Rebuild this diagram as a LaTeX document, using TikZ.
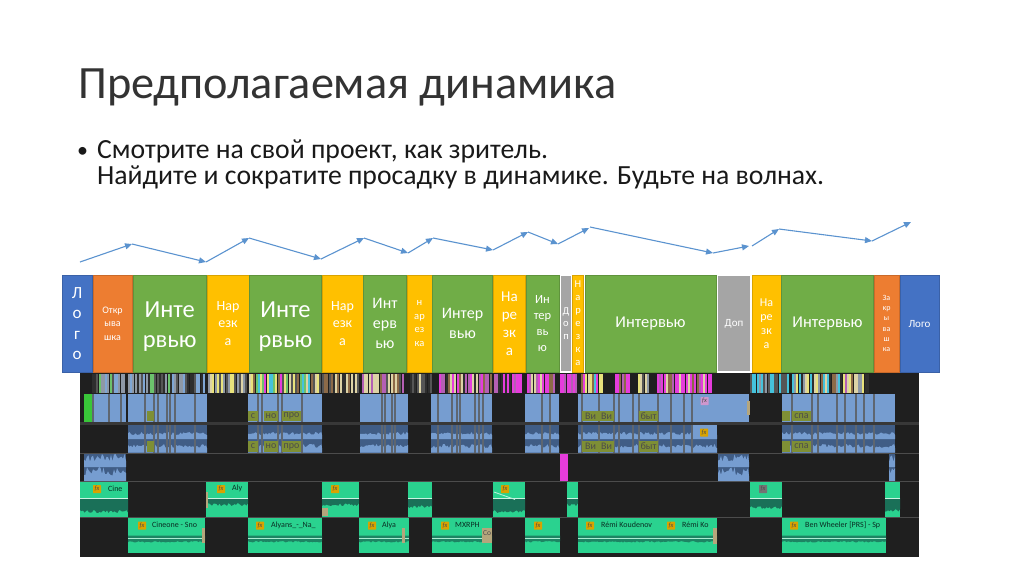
\documentclass[tikz,border=0pt]{standalone}
\usepackage{fontspec}
\setmainfont{Carlito}
\usetikzlibrary{arrows.meta, positioning}

\definecolor{logoblue}{HTML}{4472C4}
\definecolor{openorange}{HTML}{ED7D31}
\definecolor{talkgreen}{HTML}{70AD47}
\definecolor{cutyellow}{HTML}{FFC000}
\definecolor{extragrey}{HTML}{A5A5A5}
\definecolor{risearrow}{HTML}{5B93CF}
\definecolor{panel}{HTML}{1F1F1F}
\definecolor{videoclip}{HTML}{769DD0}
\definecolor{audiodark}{HTML}{405D86}
\definecolor{cutline}{HTML}{5E6670}
\definecolor{musicclip}{HTML}{2AD28F}
\definecolor{musicdark}{HTML}{1A7058}
\definecolor{titleolive}{HTML}{7E8F35}
\definecolor{tanclip}{HTML}{B5A67C}
\definecolor{sgrey}{HTML}{8E98A6}
\definecolor{sblue}{HTML}{7FA6D4}
\definecolor{sgreen}{HTML}{6CC26C}
\definecolor{sdark}{HTML}{2E2E2E}
\definecolor{smid}{HTML}{555555}
\definecolor{sbeige}{HTML}{DDD3A6}
\definecolor{syellow}{HTML}{E8E27C}
\definecolor{smag}{HTML}{E63CDC}
\definecolor{scyan}{HTML}{45C2DC}
\definecolor{sbrown}{HTML}{8C6A48}
\definecolor{spurple}{HTML}{B45FB4}

\pgfmathdeclarerandomlist{palgrey}{{sgrey}{sblue}{sgreen}{sdark}{sgrey}{smid}}
\pgfmathdeclarerandomlist{palbeige}{{sbeige}{syellow}{smid}{sgrey}{syellow}}
\pgfmathdeclarerandomlist{palmix}{{syellow}{sgreen}{smag}{scyan}{sbeige}{sbrown}{smid}}
\pgfmathdeclarerandomlist{palbrown}{{sbrown}{sbeige}{sdark}{sbrown}{smid}}
\pgfmathdeclarerandomlist{palwarm}{{sbeige}{sbrown}{sbeige}{smid}{spurple}}
\pgfmathdeclarerandomlist{paldim}{{smid}{sdark}{sbeige}{smid}}
\pgfmathdeclarerandomlist{palpurple}{{spurple}{smag}{sbrown}{sbeige}{spurple}{sdark}}
\pgfmathdeclarerandomlist{palplum}{{spurple}{smag}{sdark}{sdark}{smag}}
\pgfmathdeclarerandomlist{palhot}{{sbrown}{sbeige}{smag}{smag}{spurple}}
\pgfmathdeclarerandomlist{palpink}{{smag}{spurple}}
\pgfmathdeclarerandomlist{palbright}{{syellow}{sbrown}{smag}{scyan}{sbeige}}
\pgfmathdeclarerandomlist{palcool}{{scyan}{sgrey}{scyan}{smid}}
\pgfmathdeclarerandomlist{palsparse}{{sdark}{sdark}{scyan}{sbrown}{spurple}{sgrey}{syellow}{sbeige}}

\newcommand{\stripes}[3]{
    \pgfmathtruncatemacro{\stripecount}{(#2-#1)/2.2-1}
    \foreach \i in {0,...,\stripecount}{
        \pgfmathrandomitem{\stripecol}{#3}
        \fill[\stripecol] ({#1+\i*2.2},374) rectangle ++(2,19);
    }
}
\newcommand{\wavefill}[6]{
    \pgfmathtruncatemacro{\wavesteps}{(#2-#1)/1.5}
    \fill[#6] (#1,#3) \foreach \i in {0,...,\wavesteps}{-- ({#1+\i*1.5},{#4-rnd*(#5)})} -- (#2,{#4}) -- (#2,#3) -- cycle;
}

\tikzset{
    fs/.style 2 args={font=\fontsize{#1}{#2}\selectfont},
    block/.style={inner sep=0pt, outer sep=0pt, minimum height=97pt, text=white, align=center, draw=#1!85!black, fill=#1, line width=0.7pt},
    extrablock/.style={inner sep=0pt, outer sep=0pt, minimum height=97pt, text=white, align=center, draw=white, fill=extragrey, line width=1.2pt},
    rise/.style={risearrow, line width=1.1pt, -{Triangle[length=7pt, width=6pt]}},
    fxbadge/.style={fill=cutyellow!85!black, text=black!70, rounded corners=0.5pt, inner sep=0pt, minimum width=8pt, minimum height=8pt, font=\fontsize{6.5}{7}\itshape\selectfont},
    cliplabel/.style={anchor=west, inner sep=0pt, text=black!60!musicdark, font=\fontsize{8}{9}\selectfont},
    takelabel/.style={fill=titleolive, inner sep=0pt, text=black!70, font=\fontsize{10}{10}\selectfont}
}

\begin{document}
\begin{tikzpicture}[x=1pt, y=-1pt]
    \useasboundingbox (0,0) rectangle (1024,574);
    \pgfmathsetseed{11}

    \node[anchor=base west, inner sep=0pt, text=black!80, fs={46.3}{48}] (heading) at (78,98.5) {Предполагаемая динамика};
    \node[anchor=base west, inner sep=0pt, text=black!90, fs={22}{28}] (bullet) at (77,157) {•};
    \node[anchor=base west, inner sep=0pt, text=black!90, fs={27.7}{28}] (lineone) at (97,158) {Смотрите на свой проект, как зритель.};
    \node[anchor=base west, inner sep=0pt, text=black!90, fs={27.7}{28}] (linetwo) at (97,184) {Найдите и сократите просадку в динамике. Будьте на волнах.};

    \fill[panel] (80,372.5) rectangle (919,557);

    \node[block=logoblue, minimum width=30pt, anchor=north west, fs={17}{20.5}] (logoa) at (62,275) {Л\\о\\г\\о};
    \node[block=openorange, minimum width=39pt, right=1pt of logoa, fs={10}{13.7}] (opening) {Откр\\ыва\\шка};
    \node[block=talkgreen, minimum width=72.5pt, right=1.5pt of opening, fs={24.5}{30.5}] (talka) {\rule{0pt}{22pt}Инте\\рвью};
    \node[block=cutyellow, minimum width=42pt, right=1pt of talka, fs={14}{17.5}] (cuta) {Нар\\езк\\а};
    \node[block=talkgreen, minimum width=72pt, right=0.5pt of cuta, fs={24.5}{30.5}] (talkb) {\rule{0pt}{22pt}Инте\\рвью};
    \node[block=cutyellow, minimum width=41pt, right=0.5pt of talkb, fs={14}{17.5}] (cutb) {Нар\\езк\\а};
    \node[block=talkgreen, minimum width=43pt, right=0.5pt of cutb, fs={16}{20.3}] (talkc) {Инт\\ерв\\ью};
    \node[block=cutyellow, minimum width=25pt, right=0.5pt of talkc, fs={10.5}{13.7}] (cutc) {н\\ар\\ез\\ка};
    \node[block=talkgreen, minimum width=60pt, right=0.5pt of cutc, fs={16}{20.3}] (talkd) {Интер\\вью};
    \node[block=cutyellow, minimum width=32pt, right=1pt of talkd, fs={15}{18}] (cutd) {На\\ре\\зк\\а};
    \node[block=talkgreen, minimum width=33pt, right=0.5pt of cutd, fs={12.5}{15.7}] (talke) {Ин\\тер\\вь\\ю};
    \node[extrablock, minimum width=11pt, right=1.5pt of talke, fs={10.5}{12.6}] (extraa) {Д\\о\\п};
    \node[block=cutyellow, minimum width=11pt, right=1pt of extraa, fs={10.5}{13}] (cute) {Н\\а\\р\\е\\з\\к\\а};
    \node[block=talkgreen, minimum width=131pt, right=1.5pt of cute, fs={16.5}{20}] (talkf) {Интервью};
    \node[extrablock, minimum width=33pt, right=1.5pt of talkf, fs={11}{13}] (extrab) {Доп};
    \node[block=cutyellow, minimum width=29pt, right=1.5pt of extrab, fs={12}{14}] (cutf) {На\\ре\\зк\\а};
    \node[block=talkgreen, minimum width=92pt, right=0.5pt of cutf, fs={16.5}{20}] (talkg) {Интервью};
    \node[block=openorange, minimum width=25pt, right=0.5pt of talkg, fs={8}{10.2}] (closing) {За\\кр\\ы\\ва\\ш\\ка};
    \node[block=logoblue, minimum width=39pt, right=1pt of closing, fs={11}{13}] (logob) {Лого};

    \coordinate (ra) at (80,262);
    \coordinate (rb) at (132,244);
    \coordinate (rc) at (206,262);
    \coordinate (rd) at (249,238);
    \coordinate (re) at (321,259);
    \coordinate (rf) at (364,238);
    \coordinate (rg) at (408,253);
    \coordinate (rh) at (433,238);
    \coordinate (ri) at (493,250);
    \coordinate (rj) at (528,232);
    \coordinate (rk) at (558,244);
    \coordinate (rl) at (589,228);
    \coordinate (rm) at (590,227);
    \coordinate (rn) at (713,253);
    \coordinate (ro) at (749,246);
    \coordinate (rp) at (752,246);
    \coordinate (rq) at (779,229);
    \coordinate (rr) at (872,241);
    \coordinate (rs) at (911,222);
    \foreach \a/\b in {ra/rb, rb/rc, rc/rd, rd/re, re/rf, rf/rg, rg/rh, rh/ri, ri/rj, rj/rk, rk/rl, rm/rn, rn/ro, rp/rq, rq/rr, rr/rs}
        \draw[rise] (\a) -- (\b);

    \fill[black!78] (80,422) rectangle (919,425);
    \foreach \y in {453,481.5,517.5}
        \draw[black!70, line width=0.6pt] (80,\y) -- (919,\y);

    \foreach \xa/\xb/\pal in {92/126/palgrey, 128/207/palgrey, 208/248/palbeige, 249/322/palmix, 322/360/palbrown, 362/405/palwarm, 410/432/paldim, 439/492/palpurple, 494/524/palplum, 527/557/palhot, 560/578/palpink, 581/605/palbright, 615/632/palhot, 638/650/palbeige, 657/712/palhot, 750/790/palcool, 792/870/palsparse}
        \stripes{\xa}{\xb}{\pal};

    \foreach \xa/\xb in {92/126, 128/207, 248/322, 360/408, 431/492, 525/559, 578/749, 782/895}
        \fill[videoclip] (\xa,394) rectangle (\xb,422);
    \fill[green!55!gray] (84,394) rectangle (92,422);

    \foreach \xa/\xb in {128/207, 248/322, 360/408, 431/492, 525/559, 578/717, 782/895}{
        \fill[audiodark] (\xa,425) rectangle (\xb,452.5);
        \wavefill{\xa}{\xb}{439}{435}{3}{videoclip}
        \wavefill{\xa}{\xb}{452.5}{448}{4}{videoclip}
    }
    \foreach \xa/\xb in {84/126, 718/749, 889/895}{
        \fill[audiodark] (\xa,454) rectangle (\xb,481);
        \wavefill{\xa}{\xb}{467}{462}{8}{videoclip}
        \wavefill{\xa}{\xb}{481}{476}{9}{videoclip}
    }
    \fill[smag] (560,454) rectangle (568,481);
    \fill[videoclip] (692,425) rectangle (717,438);

    \foreach \x in {93,109,121,145,154,158,167,170,175,195,258,262,278,282,302,382,385,392,395,438,452,457,460,475,479,483,542,550,582,599,614,619,633,639,658,671,684,692,792,812,818,837,845,856,864,874}{
        \draw[cutline, line width=1.1pt] (\x,394) -- (\x,422);
    }
    \foreach \x in {145,154,158,167,170,175,195,258,262,278,282,302,382,385,392,395,438,452,457,460,475,479,483,542,550,582,599,614,619,633,639,658,671,684,692,792,812,818,837,845,856,864,874}{
        \draw[cutline, line width=1.1pt] (\x,425) -- (\x,452.5);
    }
    \fill[tanclip] (747,401) rectangle (750,415);

    \foreach \xa/\xb/\name/\txt in {147/154/ta/, 248/258/tb/с, 264/278/tc/но, 282/301/td/про, 582/599/te/Ви, 599/614/tf/Ви, 639/658/tg/быт, 782/790/th/, 792/811/ti/спа}{
        \node[takelabel, minimum width={(\xb-\xa)*1pt}, minimum height=10pt] (\name up) at ({(\xa+\xb)/2},416) {\txt};
        \node[takelabel, minimum width={(\xb-\xa)*1pt}, minimum height=11pt] (\name low) at ({(\xa+\xb)/2},446.5) {\txt};
    }

    \foreach \xa/\xb/\deep in {80/128/10, 206/248/3, 322/359/3, 408/432/5, 493/525/10, 567/578/3, 750/782/6, 885/900/9}{
        \fill[musicclip] (\xa,482) rectangle (\xb,517);
        \wavefill{\xa}{\xb}{498}{500+\deep}{-3}{musicdark}
        \draw[white!75!musicclip, line width=0.7pt] (\xa,498) -- (\xb,498);
    }
    \foreach \xa/\xb in {128/205, 248/322, 359/409, 432/492, 525/560, 578/717, 782/886}{
        \fill[musicclip] (\xa,518) rectangle (\xb,553);
        \wavefill{\xa}{\xb}{535.5}{541}{-1.5}{musicdark!80!musicclip}
        \draw[white!60!musicclip, line width=0.5pt] (\xa,538.5) -- (\xb,538.5);
    }
    \foreach \xa/\ya/\xb/\yb in {206/492/208/508, 322/508/328/516, 202/528/205/543, 402/528/405/543, 482/528/492/543, 713/528/717/544}
        \fill[tanclip] (\xa,\ya) rectangle (\xb,\yb);
    \draw[white!70!musicclip, line width=0.8pt] (494,492) -- (515,499.5);
    \node[anchor=west, inner sep=0pt, text=black!70, font=\fontsize{7.5}{8}\selectfont] (coclip) at (483,533) {Co};

    \foreach \x/\name in {97/fa, 221/fb, 335/fc, 505/fd}
        \node[fxbadge] (\name) at (\x,489) {fx};
    \node[fxbadge, fill=black!55] (fe) at (763,489) {fx};
    \foreach \x/\name in {142/fg, 260/fh, 372/fi, 445/fj, 538/fk, 590/fl, 671/fm, 794/fn}
        \node[fxbadge] (\name) at (\x,525.5) {fx};
    \node[fxbadge] (fo) at (704,432.5) {fx};
    \node[fxbadge, fill=spurple!65!white] (fp) at (704.5,401) {fx};

    \node[cliplabel] (cine) at (108,488.5) {Cine};
    \node[cliplabel] (aly) at (232,488.5) {Aly};
    \node[cliplabel] (cineone) at (152,525) {Cineone - Sno};
    \node[cliplabel] (alyans) at (271,525) {Alyans\_-\_Na\_};
    \node[cliplabel] (alya) at (382,525) {Alya};
    \node[cliplabel] (mxrph) at (455,525) {MXRPH};
    \node[cliplabel] (remia) at (601,525) {Rémi Koudenov};
    \node[cliplabel] (remib) at (682,525) {Rémi Ko};
    \node[cliplabel] (wheeler) at (805,525) {Ben Wheeler [PRS] - Sp};
\end{tikzpicture}
\end{document}
